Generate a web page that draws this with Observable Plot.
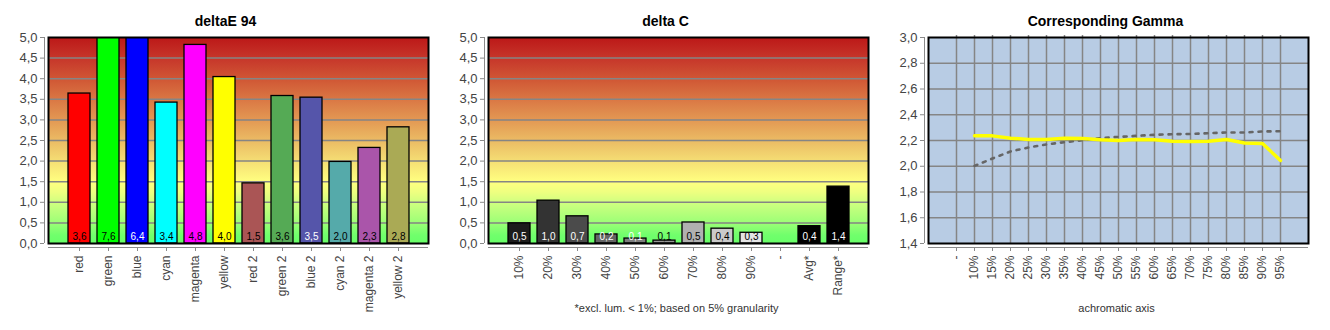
<!DOCTYPE html>
<html><head><meta charset="utf-8">
<script src="https://cdn.jsdelivr.net/npm/d3@7"></script>
<script src="https://cdn.jsdelivr.net/npm/@observablehq/plot@0.6"></script>
<style>
body{margin:0;background:#fff;}
#row{display:flex;width:1330px;height:330px;overflow:hidden;}
#row svg{display:block;flex:none;}
</style></head><body><div id="row"></div>
<script>
// ---- deltaE 94 ----
const deCategories = ["red","green","blue","cyan","magenta","yellow","red 2","green 2","blue 2","cyan 2","magenta 2","yellow 2"];
const deValues = [3.64, 7.6, 6.4, 3.42, 4.82, 4.04, 1.46, 3.58, 3.54, 1.98, 2.32, 2.82];
const deColors = ["#FF0000","#00FF00","#0000FF","#00FFFF","#FF00FF","#FFFF00","#AA5555","#55AA55","#5555AA","#55AAAA","#AA55AA","#AAAA55"];
const deLabelColors = ["#000","#000","#fff","#000","#000","#000","#000","#000","#fff","#000","#000","#000"];

// ---- delta C ----
const dcCategories = ["10%","20%","30%","40%","50%","60%","70%","80%","90%","-","Avg*","Range*"];
const dcValues = [0.49, 1.04, 0.66, 0.22, 0.12, 0.07, 0.51, 0.36, 0.26, null, 0.42, 1.38];
const dcColors = ["#1C1C1C","#333333","#4B4B4B","#646464","#7D7D7D","#969696","#B0B0B0","#CACACA","#E4E4E4","#000000","#000000","#000000"];
const dcLabelColors = ["#fff","#fff","#fff","#fff","#fff","#000","#000","#000","#000","#000","#fff","#fff"];

const barTicks = [0, 0.5, 1, 1.5, 2, 2.5, 3, 3.5, 4, 4.5, 5];
const gradientValues = [5, 4.5, 4, 3.5, 3, 2.5, 2, 1.5, 1.25, 1, 0.5, 0.2, 0];
const gradientColors = ["#BC1818","#C6362A","#D05634","#DA7744","#E39853","#EBBB64","#F5DE74","#FFFF80","#EEFF80","#D0FF80","#9CFF76","#70FF6C","#68FF68"];

// ---- Corresponding Gamma ----
const gammaCategories = ["-","10%","15%","20%","25%","30%","35%","40%","45%","50%","55%","60%","65%","70%","75%","80%","85%","90%","95%"];
const gammaMeasured = [null, 2.236, 2.236, 2.218, 2.208, 2.208, 2.218, 2.215, 2.205, 2.200, 2.208, 2.205, 2.195, 2.192, 2.195, 2.208, 2.180, 2.177, 2.045];
const gammaReference = [null, 2.003, 2.060, 2.115, 2.146, 2.169, 2.187, 2.202, 2.218, 2.228, 2.236, 2.244, 2.249, 2.251, 2.257, 2.262, 2.262, 2.270, 2.272];
const gammaTicks = [1.4, 1.6, 1.8, 2.0, 2.2, 2.4, 2.6, 2.8, 3.0];

const FONT = "'Liberation Sans', Arial, sans-serif";
const fmt = d => d.toFixed(1).replace(".", ",");
const GRID = "#858585";
const AXIS = "#8a8a8a";
const TXT = "#333";

// left axis line drawn from scales
function leftAxisLine(y0, y1) {
  return (index, scales, values, dims) => {
    const g = d3.create("svg:g");
    const x = dims.marginLeft + 0.5;
    g.append("line").attr("x1", x).attr("x2", x)
      .attr("y1", scales.y(y1)).attr("y2", scales.y(y0))
      .attr("stroke", AXIS).attr("stroke-width", 1);
    return g.node();
  };
}

function commonAxes(ticks, y0, y1) {
  return [
    leftAxisLine(y0, y1),
    Plot.ruleY([y0], {dy: 4, insetLeft: 4, stroke: AXIS, strokeWidth: 1}),
    Plot.axisY({ticks, tickSize: 4, tickPadding: 3, tickFormat: fmt, stroke: AXIS, fill: "#444", fontSize: 13, label: null}),
    Plot.axisX({tickSize: 4, tickPadding: 4, tickRotate: -90, stroke: AXIS, fill: "#444", fontSize: 12, label: null})
  ];
}

function barPanel({title, cats, vals, fills, labelFills, caption, gradId}) {
  const data = cats.map((c, i) => ({c, v: vals[i], fill: fills[i], lf: labelFills[i]}));
  const present = data.filter(d => d.v != null);
  const marks = [
    Plot.frame({fill: `url(#${gradId})`, insetLeft: 4, insetBottom: 4}),
    Plot.ruleY(barTicks.slice(1, -1), {stroke: GRID, strokeWidth: 1.5, insetLeft: 4}),
    Plot.barY(present, {x: "c", y: "v", fill: "fill", stroke: "#000", strokeWidth: 1.3, clip: true}),
    Plot.text(present, {x: "c", y: 0, text: d => fmt(d.v), fill: "lf", dy: -7, fontSize: 10, lineAnchor: "middle"}),
    Plot.frame({stroke: "#000", strokeWidth: 2, insetLeft: 4, insetBottom: 4}),
    ...commonAxes(barTicks, 0, 5),
    Plot.text([title], {frameAnchor: "top", dx: -11, dy: -16, lineAnchor: "middle", fontWeight: "bold", fontSize: 14, fill: "#000"})
  ];
  if (caption) marks.push(Plot.text([caption], {frameAnchor: "bottom", dy: 61, lineAnchor: "middle", fontSize: 11, fill: TXT}));
  const svg = Plot.plot({
    width: 440, height: 330,
    marginLeft: 44, marginRight: 12, marginTop: 37, marginBottom: 83,
    style: {fontFamily: FONT, background: "transparent", overflow: "visible"},
    x: {type: "band", domain: cats, paddingInner: 0.25, paddingOuter: 0.65, insetLeft: 4, axis: null},
    y: {domain: [0, 5], insetBottom: 4, axis: null},
    color: {type: "identity"},
    marks
  });
  const defs = d3.select(svg).insert("defs", ":first-child");
  const lg = defs.append("linearGradient").attr("id", gradId)
    .attr("x1", 0).attr("y1", 0).attr("x2", 0).attr("y2", 1);
  gradientValues.forEach((v, i) => {
    lg.append("stop").attr("offset", (5 - v) / 5).attr("stop-color", gradientColors[i]);
  });
  return svg;
}

function gammaPanel() {
  const data = gammaCategories.map((c, i) => ({c, m: gammaMeasured[i], r: gammaReference[i]})).filter(d => d.m != null);
  return Plot.plot({
    width: 450, height: 330,
    marginLeft: 44, marginRight: 22, marginTop: 37, marginBottom: 83,
    style: {fontFamily: FONT, background: "transparent", overflow: "visible"},
    x: {type: "point", domain: gammaCategories, padding: 1.44, insetLeft: 4, axis: null},
    y: {domain: [1.4, 3.0], insetBottom: 4, axis: null},
    marks: [
      Plot.frame({fill: "#B8CCE4", insetLeft: 4, insetBottom: 4}),
      Plot.ruleX(gammaCategories, {stroke: GRID, strokeWidth: 1.5, insetBottom: 4, insetTop: -2}),
      Plot.ruleY(gammaTicks.slice(1, -1), {stroke: GRID, strokeWidth: 1.5, insetLeft: 4}),
      Plot.line(data, {x: "c", y: "r", stroke: "#666", strokeWidth: 2.6, strokeDasharray: "3,6"}),
      Plot.line(data, {x: "c", y: "m", stroke: "#FFFF00", strokeWidth: 3.5}),
      Plot.frame({stroke: "#000", strokeWidth: 2, insetLeft: 4, insetBottom: 4}),
      ...commonAxes(gammaTicks, 1.4, 3.0),
      Plot.text(["Corresponding Gamma"], {frameAnchor: "top", dx: -11, dy: -16, lineAnchor: "middle", fontWeight: "bold", fontSize: 14, fill: "#000"}),
      Plot.text(["achromatic axis"], {frameAnchor: "bottom", dy: 61, lineAnchor: "middle", fontSize: 11, fill: TXT})
    ]
  });
}

const row = document.getElementById("row");
row.appendChild(barPanel({title: "deltaE 94", cats: deCategories, vals: deValues, fills: deColors, labelFills: deLabelColors, gradId: "gradDE"}));
row.appendChild(barPanel({title: "delta C", cats: dcCategories, vals: dcValues, fills: dcColors, labelFills: dcLabelColors, caption: "*excl. lum. < 1%; based on 5% granularity", gradId: "gradDC"}));
row.appendChild(gammaPanel());
</script>
</body></html>
